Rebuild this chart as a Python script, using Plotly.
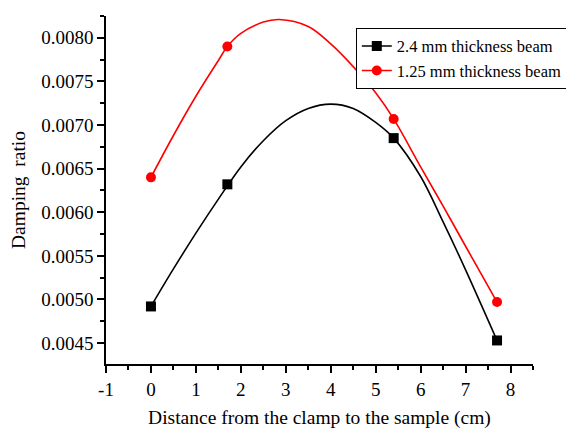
import plotly.graph_objects as go

# measured data points
x_pts = [0, 1.7, 5.4, 7.7]
thick_pts = [0.00492, 0.00632, 0.00685, 0.00453]
thin_pts = [0.00640, 0.00790, 0.00707, 0.00497]

# fitted curves
thick_cx = [0, 0.5, 1.0, 1.5, 2.0, 2.5, 3.0, 3.5, 4.0, 4.5, 5.0, 5.4, 6.0, 6.5, 7.0, 7.7]
thick_cy = [0.00492, 0.00535, 0.00576, 0.00615, 0.00652, 0.00682, 0.00705, 0.00719, 0.00724,
            0.00719, 0.00703, 0.00685, 0.00641, 0.00589, 0.00534, 0.00453]
thin_cx = [0, 0.5, 1.0, 1.5, 1.7, 2.0, 2.5, 2.85, 3.5, 4.0, 4.5, 5.0, 5.4, 6.0, 6.5, 7.0, 7.7]
thin_cy = [0.00640, 0.00688, 0.00733, 0.00774, 0.00790, 0.00805, 0.00818, 0.00821, 0.00813,
           0.00793, 0.00767, 0.00737, 0.00707, 0.00652, 0.00607, 0.00561, 0.00497]

x_ticks = [-1, 0, 1, 2, 3, 4, 5, 6, 7, 8]
x_labels = ["-1", "0", "1", "2", "3", "4", "5", "6", "7", "8"]

names = ["2.4 mm thickness beam", "1.25 mm thickness beam"]
colors = ["black", "red"]
symbols = ["square", "circle"]

fig = go.Figure()
curves = [(thick_cx, thick_cy, thick_pts), (thin_cx, thin_cy, thin_pts)]
for (cx, cy, pts), name, col, sym in zip(curves, names, colors, symbols):
    fig.add_trace(go.Scatter(x=cx, y=cy, mode="lines", line=dict(color=col, width=1.6, shape="spline"),
                             showlegend=False, hoverinfo="skip"))
    fig.add_trace(go.Scatter(x=x_pts, y=pts, mode="markers", marker=dict(symbol=sym, color=col, size=10),
                             showlegend=False))
    fig.add_trace(go.Scatter(x=[None], y=[None], mode="lines+markers", name=name,
                             line=dict(color=col, width=1.6), marker=dict(symbol=sym, color=col, size=10)))

axis_style = dict(showline=True, linecolor="black", linewidth=1.5, ticks="outside", ticklen=7,
                  tickwidth=1.5, tickcolor="black", showgrid=False, zeroline=False, automargin=False,
                  tickfont=dict(size=19, color="black"))

# page body has an 8px margin, so the plot box is shifted up/left by that much
fig.update_layout(
    width=574, height=432,
    margin=dict(l=98, r=49, t=8, b=76),
    plot_bgcolor="white", paper_bgcolor="white",
    font=dict(family="Liberation Serif", color="black"),
    legend=dict(x=0.585, y=0.966, xanchor="left", yanchor="top", bordercolor="black", borderwidth=1,
                font=dict(size=16.5), bgcolor="white", tracegroupgap=0, itemwidth=30),
)
fig.update_xaxes(range=[-1, 8.5], tickvals=x_ticks, ticktext=x_labels,
                 minor=dict(dtick=0.5, tick0=-1, ticklen=4, tickcolor="black", ticks="outside"),
                 title=dict(text="Distance from the clamp to the sample (cm)", font=dict(size=19.5), standoff=12),
                 **axis_style)
fig.update_yaxes(range=[0.00426, 0.00825], dtick=0.0005, tick0=0.0045, tickformat=".4f",
                 minor=dict(dtick=0.00025, ticklen=4, tickcolor="black", ticks="outside"),
                 title=dict(text="Damping  ratio", font=dict(size=19.5), standoff=10),
                 **axis_style)

fig.write_html("out.html")
